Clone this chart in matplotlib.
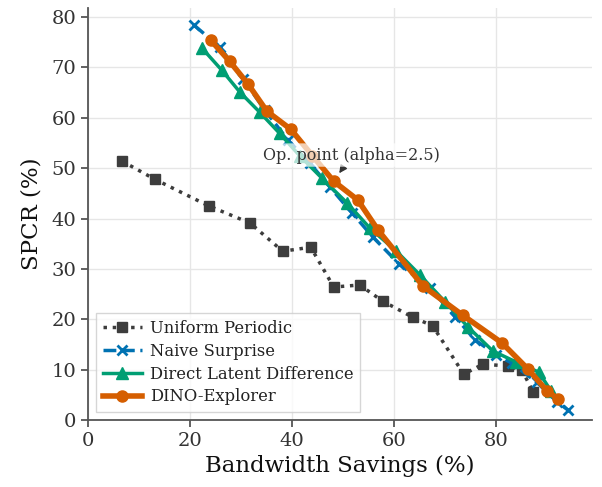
import matplotlib
matplotlib.use("Agg")
import matplotlib.pyplot as plt

plt.rcParams['font.family'] = ['DejaVu Serif']

uni_x = [6.7, 13.1, 23.7, 31.8, 38.2, 43.7, 48.2, 53.3, 57.8, 63.7, 67.6, 73.7, 77.5, 82.4, 85.1, 87.3]
uni_y = [51.4, 47.8, 42.5, 39.1, 33.5, 34.3, 26.4, 26.8, 23.6, 20.4, 18.7, 9.1, 11.1, 10.7, 9.9, 5.6]

naive_x = [20.8, 25.9, 30.4, 34.7, 39.2, 43.5, 47.5, 51.8, 55.9, 61.0, 67.1, 72.0, 75.9, 80.0, 83.1, 88.0, 92.0, 94.1]
naive_y = [78.4, 74.0, 67.8, 61.5, 55.6, 51.0, 46.2, 41.1, 36.3, 31.0, 26.2, 20.5, 15.9, 13.0, 11.3, 7.5, 3.6, 2.0]

dld_x = [22.4, 26.3, 29.8, 33.7, 37.6, 41.5, 45.9, 50.8, 55.3, 60.5, 65.1, 70.0, 74.5, 79.4, 84.0, 88.4, 90.8]
dld_y = [73.8, 69.4, 65.1, 61.1, 56.9, 52.5, 48.0, 43.1, 38.1, 33.5, 28.8, 23.5, 18.5, 13.7, 11.5, 9.5, 5.8]

dino_x = [24.1, 27.8, 31.4, 35.1, 39.8, 44.0, 48.2, 52.9, 56.9, 65.7, 73.5, 81.2, 86.3, 90.0, 92.2]
dino_y = [75.4, 71.2, 66.7, 61.3, 57.7, 52.5, 47.4, 43.7, 37.7, 26.6, 20.8, 15.3, 10.1, 5.8, 4.2]

op_x, op_y = 48.2, 47.4

fig = plt.figure(figsize=(6.02, 4.87), dpi=100)
ax = fig.add_axes([0.146, 0.1376, 0.837, 0.846])

ax.plot(uni_x, uni_y, linestyle=':', color='#3d3d3d', marker='s', markersize=7.5,
        linewidth=2.5, label='Uniform Periodic', zorder=2)
ax.plot(naive_x, naive_y, linestyle='--', color='#0072B2', marker='x', markersize=7.5,
        markeredgewidth=2, linewidth=2.5, label='Naive Surprise', zorder=3)
ax.plot(dld_x, dld_y, linestyle='-', color='#009E73', marker='^', markersize=8,
        linewidth=2.5, label='Direct Latent Difference', zorder=4)
ax.plot(dino_x, dino_y, linestyle='-', color='#D55E00', marker='o', markersize=8,
        linewidth=4, label='DINO-Explorer', zorder=5)

ax.annotate('Op. point (alpha=2.5)', xy=(op_x, op_y), xytext=(34.4, 52.6),
            fontsize=11.5, color='#333333', ha='left', va='center',
            bbox=dict(boxstyle='round,pad=0.2', facecolor='white', edgecolor='none', alpha=0.7),
            arrowprops=dict(arrowstyle='-|>', color='#333333', shrinkA=0, shrinkB=7, lw=1),
            zorder=6)

ax.set_xlim(0, 98.8)
ax.set_ylim(0, 81.8)
ax.set_xticks([0, 20, 40, 60, 80])
ax.set_yticks([0, 10, 20, 30, 40, 50, 60, 70, 80])
ax.grid(True, color='#e6e6e6', linewidth=1)
ax.set_axisbelow(True)
for s in ['top', 'right']:
    ax.spines[s].set_visible(False)
for s in ['left', 'bottom']:
    ax.spines[s].set_color('#555555')
    ax.spines[s].set_linewidth(1.3)
ax.tick_params(axis='both', labelsize=14, colors='#555555', labelcolor='#333333',
               length=5, width=1.3, direction='out')
ax.set_xlabel('Bandwidth Savings (%)', fontsize=16.5, color='#111111')
ax.set_ylabel('SPCR (%)', fontsize=16.5, color='#111111', labelpad=6)

leg = ax.legend(loc='lower left', fontsize=11.8, frameon=True, fancybox=False,
                borderaxespad=0.5, handlelength=2.4, handletextpad=0.5,
                labelspacing=0.35)
leg.get_frame().set_edgecolor('#cccccc')
for t in leg.get_texts():
    t.set_color('#222222')

fig.savefig('out.png', dpi=100)
